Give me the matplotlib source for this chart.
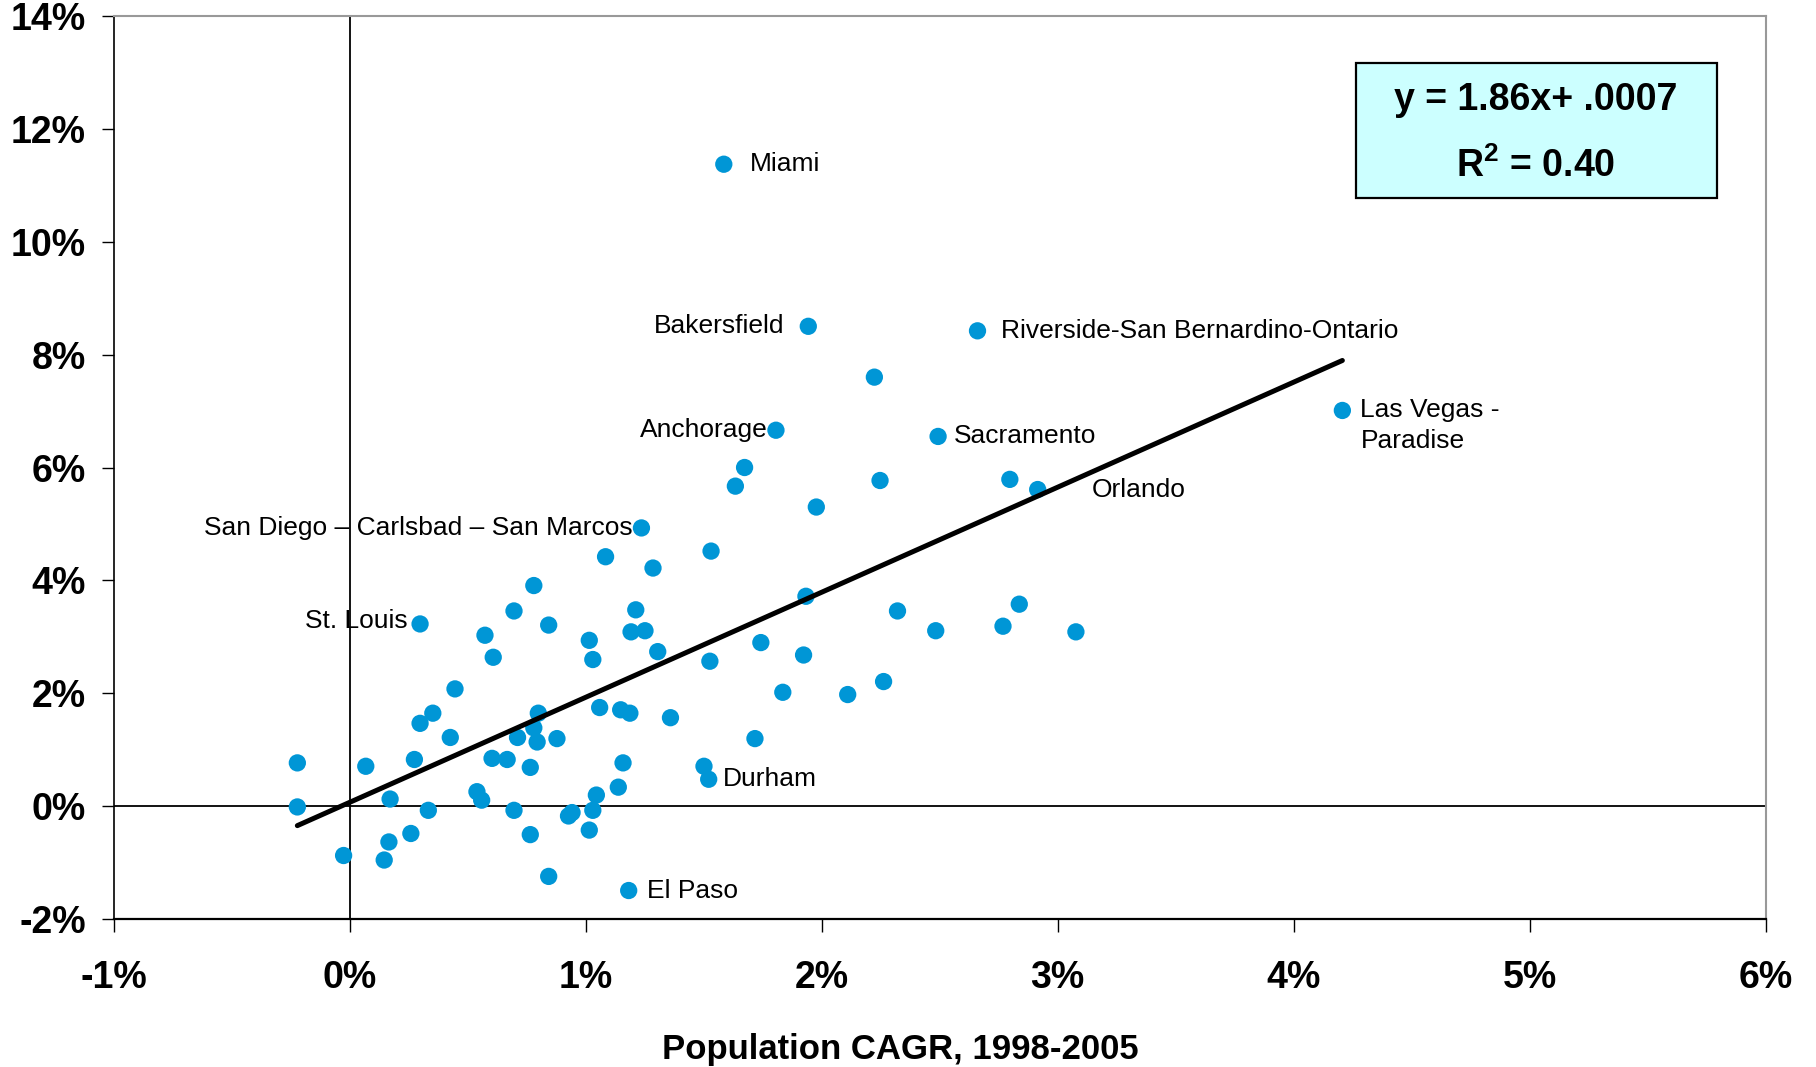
import matplotlib
matplotlib.use("Agg")
import matplotlib.pyplot as plt
from matplotlib.ticker import FuncFormatter, MultipleLocator
from matplotlib.patches import Rectangle
import numpy as np

plt.rcParams['font.family'] = ['Liberation Sans', 'DejaVu Sans']
plt.rcParams['mathtext.fontset'] = 'custom'
plt.rcParams['mathtext.rm'] = 'Liberation Sans'
plt.rcParams['mathtext.bf'] = 'Liberation Sans:bold'

# population CAGR 1998-2005 (%), unlabeled metros
pop_cagr = [2.224, 1.674, 1.635, 2.248, 2.798, 1.978, 1.085, 1.532, 1.286, 0.781,
            0.697, 1.213, 0.844, 0.574, 1.193, 1.252, 1.016, 1.934, 2.322, 2.484,
            2.838, 2.769, 3.078, 1.743, 1.924, 0.609, 1.031, 1.306, 1.527, 0.447,
            1.836, 2.111, 2.263, 0.353, 0.299, 0.427, 0.800, 0.781, 0.712, 0.795,
            0.879, 1.060, 1.149, 1.188, 1.360, 1.718, 0.604, 0.668, 0.766, 0.275,
            0.069, -0.221, -0.221, 0.172, 0.540, 0.560, 1.159, 1.139, 1.502, 1.046,
            0.334, 0.697, 0.943, 0.928, 1.031, 1.016, 0.766, 0.260, 0.167, 0.147,
            -0.025, 0.844]
y_vals = [7.60, 6.00, 5.67, 5.77, 5.79, 5.30, 4.42, 4.52, 4.22, 3.91,
          3.46, 3.48, 3.21, 3.03, 3.09, 3.11, 2.94, 3.72, 3.46, 3.11,
          3.58, 3.19, 3.09, 2.90, 2.68, 2.64, 2.60, 2.74, 2.57, 2.08,
          2.02, 1.98, 2.21, 1.65, 1.47, 1.22, 1.65, 1.39, 1.22, 1.14,
          1.20, 1.75, 1.71, 1.65, 1.57, 1.20, 0.85, 0.83, 0.69, 0.83,
          0.71, 0.77, -0.01, 0.13, 0.26, 0.11, 0.77, 0.34, 0.71, 0.20,
          -0.07, -0.07, -0.11, -0.17, -0.07, -0.42, -0.50, -0.48, -0.63, -0.95,
          -0.87, -1.24]

# labeled metros
label_names = ["Miami", "Bakersfield", "Riverside-San Bernardino-Ontario", "Anchorage",
               "Sacramento", "Las Vegas -\nParadise", "Orlando",
               "San Diego \u2013 Carlsbad \u2013 San Marcos", "St. Louis", "Durham", "El Paso"]
label_x = [1.586, 1.944, 2.661, 1.807, 2.494, 4.207, 2.916, 1.237, 0.299, 1.522, 1.183]
label_y = [11.37, 8.50, 8.42, 6.66, 6.55, 7.01, 5.61, 4.93, 3.23, 0.48, -1.49]

# text offsets (points) and alignment for each label
offsets = [(19, 0, 'left'), (-17, 0, 'right'), (17, 0, 'left'), (-6, 0, 'right'),
           (11, 0, 'left'), (13, -11, 'left'), (39, 0, 'left'), (-6, 0, 'right'),
           (-9, 2, 'right'), (10, 0, 'left'), (13, 0, 'left')]

slope, intercept = 1.86, 0.07  # % units, from the fitted equation

fig = plt.figure(figsize=(18.16, 10.67), dpi=100)
ax = fig.add_axes([0.0625, 0.1384, 0.9097, 0.8469])

blue = '#0096D6'
ax.axhline(0, color='black', lw=1.3, zorder=1)
ax.axvline(0, color='black', lw=1.3, zorder=1)

all_x = np.array(pop_cagr + label_x)
ax.scatter(all_x, y_vals + label_y, s=155, color=blue, edgecolors='none', zorder=2)

fx = np.array([all_x.min(), all_x.max()])
ax.plot(fx, slope * fx + intercept, color='black', lw=3.6, solid_capstyle='round', zorder=3)

for name, x, y, (dx, dy, ha) in zip(label_names, label_x, label_y, offsets):
    ax.annotate(name, (x, y), xytext=(dx, dy), textcoords='offset points',
                ha=ha, va='center', fontsize=19, linespacing=1.35, zorder=4)

ax.set_xlim(-1, 6)
ax.set_ylim(-2, 14)
ax.xaxis.set_major_locator(MultipleLocator(1))
ax.yaxis.set_major_locator(MultipleLocator(2))
pct = FuncFormatter(lambda v, p: f"{v:.0f}%")
ax.xaxis.set_major_formatter(pct)
ax.yaxis.set_major_formatter(pct)
ax.tick_params(axis='both', direction='out', length=9, width=1, colors='black',
               labelsize=27)
ax.tick_params(axis='x', pad=20)
ax.tick_params(axis='y', pad=11)
for lab in ax.get_xticklabels() + ax.get_yticklabels():
    lab.set_fontweight('bold')

ax.spines['left'].set_color('black')
ax.spines['left'].set_linewidth(1.2)
ax.spines['bottom'].set_color('black')
ax.spines['bottom'].set_linewidth(1.6)
for s in ['top', 'right']:
    ax.spines[s].set_color('#999999')
    ax.spines[s].set_linewidth(1.5)

fig.text(0.4959, 0.0078, "Population CAGR, 1998-2005", ha='center', va='baseline',
         fontsize=25, fontweight='bold')

# equation box
fig.patches.append(Rectangle((0.7465, 0.8142), 0.1988, 0.1265, transform=fig.transFigure,
                             facecolor='#CCFFFF', edgecolor='black', lw=1.6, zorder=5))
fig.text(0.8458, 0.9063, "y = 1.86x+ .0007", ha='center', va='center',
         fontsize=27, fontweight='bold', zorder=6)
fig.text(0.8458, 0.8438, r"R$^{\mathbf{2}}$ = 0.40", ha='center', va='center',
         fontsize=27, fontweight='bold', zorder=6)

fig.savefig("out.png", dpi=100)
